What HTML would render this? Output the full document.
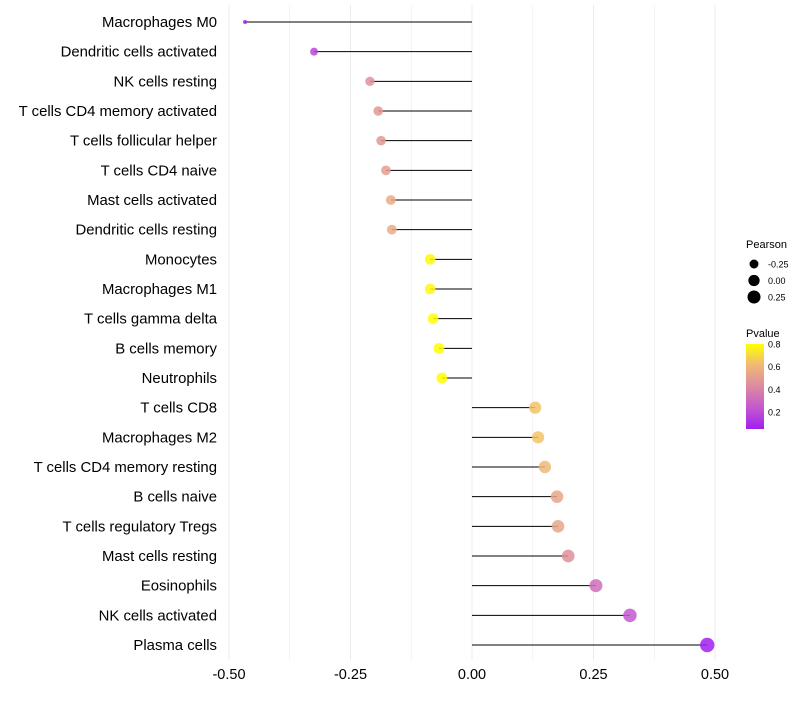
<!DOCTYPE html>
<html><head><meta charset="utf-8"><style>
body{margin:0;background:#fff;font-family:"Liberation Sans",sans-serif}
</style></head><body>
<svg id="chart" width="800" height="700" xmlns="http://www.w3.org/2000/svg" font-family="Liberation Sans, sans-serif">
<defs><linearGradient id="pg" x1="0" y1="1" x2="0" y2="0">
<stop offset="0" stop-color="#a020f0"/><stop offset="0.25" stop-color="#c457d0"/><stop offset="0.5" stop-color="#dc8aa0"/><stop offset="0.75" stop-color="#f0b878"/><stop offset="1" stop-color="#ffff00"/></linearGradient></defs>
<g id="grid"></g><g id="marks"></g><g id="labels"></g><g id="legend"></g>
</svg>
<script>
const categories=["Macrophages M0","Dendritic cells activated","NK cells resting","T cells CD4 memory activated","T cells follicular helper","T cells CD4 naive","Mast cells activated","Dendritic cells resting","Monocytes","Macrophages M1","T cells gamma delta","B cells memory","Neutrophils","T cells CD8","Macrophages M2","T cells CD4 memory resting","B cells naive","T cells regulatory  Tregs ","Mast cells resting","Eosinophils","NK cells activated","Plasma cells"];
const pearson=[-0.467,-0.325,-0.21,-0.193,-0.187,-0.177,-0.167,-0.165,-0.086,-0.086,-0.08,-0.068,-0.062,0.13,0.136,0.15,0.175,0.177,0.198,0.255,0.325,0.484];
const pvalue=[0.05,0.15,0.45,0.48,0.48,0.5,0.55,0.55,0.78,0.78,0.8,0.8,0.8,0.63,0.63,0.6,0.53,0.53,0.45,0.3,0.2,0.05];
const xTicks=[-0.5,-0.25,0,0.25,0.5];
const xTickLabels=["-0.50","-0.25","0.00","0.25","0.50"];
const sizeLegend=[-0.25,0,0.25];
const pTicks=[0.2,0.4,0.6,0.8];
const NS="http://www.w3.org/2000/svg";
const X=v=>472+v*486;
const Y=i=>22+i*(623/21);
const pmin=Math.min(...pearson),pmax=Math.max(...pearson);
const R=p=>2+5.2*Math.sqrt(Math.max(0,(p-pmin)/(pmax-pmin)));
const stops=[[0.05,[160,32,240]],[0.2,[196,87,208]],[0.425,[220,138,160]],[0.6,[240,184,120]],[0.8,[255,255,0]]];
function col(p){p=Math.max(0.05,Math.min(0.8,p));for(let k=1;k<stops.length;k++){if(p<=stops[k][0]){const a=stops[k-1],b=stops[k],t=(p-a[0])/(b[0]-a[0]);return `rgb(${a[1].map((c,j)=>Math.round(c+(b[1][j]-c)*t)).join(',')})`;}}}
function el(tag,attrs,parent,text){const e=document.createElementNS(NS,tag);for(const k in attrs)e.setAttribute(k,attrs[k]);if(text!==undefined)e.textContent=text;parent.appendChild(e);return e;}
const grid=document.getElementById('grid'),marks=document.getElementById('marks'),labels=document.getElementById('labels'),legend=document.getElementById('legend');
for(let v=-0.5;v<=0.5001;v+=0.125){const g=el('line',{x1:X(v),x2:X(v),y1:5,y2:660,stroke:'#ebebeb','stroke-width':Math.abs(v*4-Math.round(v*4))<1e-6?1:0.6},grid);

}
xTicks.forEach((v,i)=>{const t=el('text',{x:X(v),y:679,'text-anchor':'middle','font-size':14.5,fill:'#000'},labels,xTickLabels[i]);

});
categories.forEach((c,i)=>{const y=Y(i);
const t=el('text',{x:217,y:y+5,'text-anchor':'end','font-size':14.9,fill:'#000'},labels,c);


const l=el('line',{x1:X(0),x2:X(pearson[i]),y1:y,y2:y,stroke:'#000','stroke-width':1},marks);


const d=el('circle',{cx:X(pearson[i]),cy:y,r:R(pearson[i]),fill:col(pvalue[i]),'fill-opacity':0.85},marks);

});
const lt=el('text',{x:746,y:248,'font-size':11},legend,'Pearson');


sizeLegend.forEach((v,i)=>{const y=264+i*16.5;
const c=el('circle',{cx:754,cy:y,r:R(v)},legend);


const t=el('text',{x:768,y:y+3.5,'font-size':9},legend,v===0?'0.00':v.toFixed(2));

});
const pt=el('text',{x:746,y:337,'font-size':11},legend,'Pvalue');


const bar=el('rect',{x:746,y:344,width:18,height:85,fill:'url(#pg)'},legend);


const PY=p=>344+(0.8-p)*(68/0.6);
pTicks.forEach(p=>{const t=el('text',{x:768,y:PY(p)+3.5,'font-size':9},legend,p.toFixed(1));

});
</script>
</body></html>
